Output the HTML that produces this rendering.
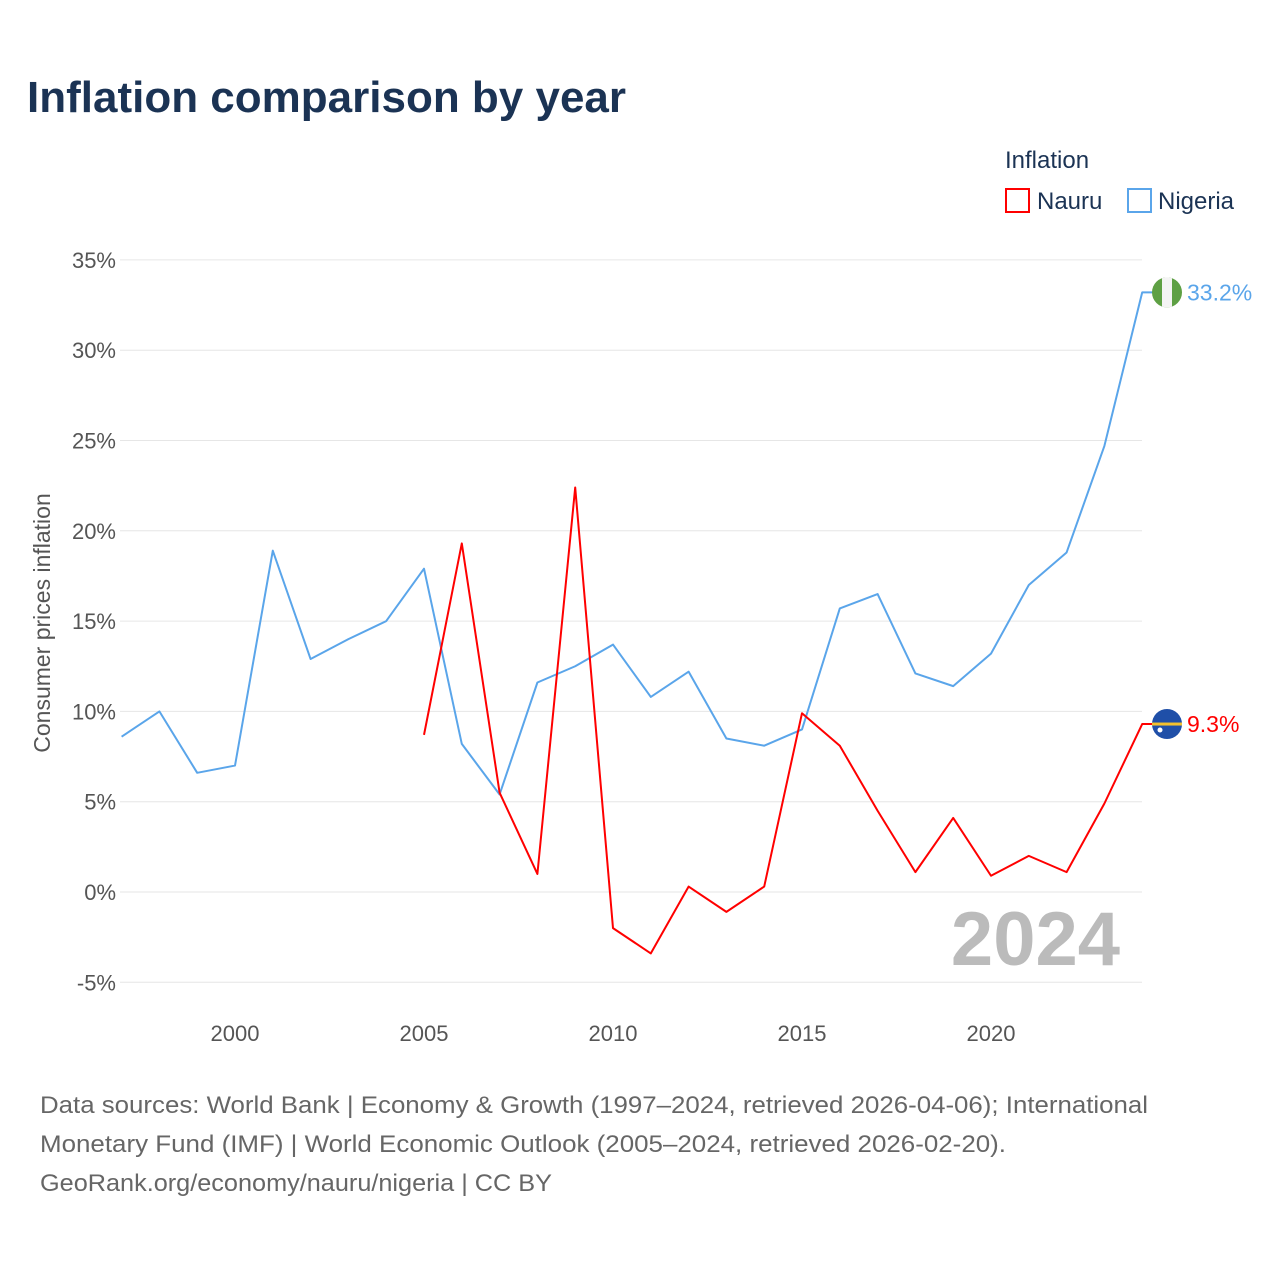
<!DOCTYPE html>
<html><head><meta charset="utf-8">
<style>
body{margin:0;background:#fff;font-family:"Liberation Sans",sans-serif;}
svg{display:block}
</style></head>
<body>
<svg id="chart" width="1280" height="1280" viewBox="0 0 1280 1280" xmlns="http://www.w3.org/2000/svg">
<rect width="1280" height="1280" fill="#fff"/>
<text x="27" y="112" font-size="44" font-weight="bold" fill="#1b3354">Inflation comparison by year</text>
<g>
<text x="1005" y="168" font-size="24" fill="#1b3354">Inflation</text>
<g><rect x="1006" y="189" width="23" height="23" fill="none" stroke="#ff0000" stroke-width="2"/><text x="1037" y="209" font-size="24" fill="#1b3354">Nauru</text></g>
<g><rect x="1128" y="189" width="23" height="23" fill="none" stroke="#5aa5ea" stroke-width="2"/><text x="1158" y="209" font-size="24" fill="#1b3354">Nigeria</text></g>
</g>
<text transform="translate(50,623) rotate(-90)" text-anchor="middle" font-size="23" fill="#555">Consumer prices inflation</text>
<g id="grid"></g><g id="yt"></g><g id="xt"></g>
<text x="1120" y="965" text-anchor="end" font-size="76" font-weight="bold" fill="#bbbbbb">2024</text>
<g id="series"></g>
<g font-size="24" fill="#666">
<text x="40" y="1113" textLength="1108" lengthAdjust="spacingAndGlyphs">Data sources: World Bank | Economy &amp; Growth (1997–2024, retrieved 2026-04-06); International</text>
<text x="40" y="1152" textLength="966" lengthAdjust="spacingAndGlyphs">Monetary Fund (IMF) | World Economic Outlook (2005–2024, retrieved 2026-02-20).</text>
<text x="40" y="1191" textLength="512" lengthAdjust="spacingAndGlyphs">GeoRank.org/economy/nauru/nigeria | CC BY</text>
</g>
</svg>
<script>
const nigeriaYears=[1997,1998,1999,2000,2001,2002,2003,2004,2005,2006,2007,2008,2009,2010,2011,2012,2013,2014,2015,2016,2017,2018,2019,2020,2021,2022,2023,2024];
const nigeriaValues=[8.6,10.0,6.6,7.0,18.9,12.9,14.0,15.0,17.9,8.2,5.4,11.6,12.5,13.7,10.8,12.2,8.5,8.1,9.0,15.7,16.5,12.1,11.4,13.2,17.0,18.8,24.7,33.2];
const nauruYears=[2005,2006,2007,2008,2009,2010,2011,2012,2013,2014,2015,2016,2017,2018,2019,2020,2021,2022,2023,2024];
const nauruValues=[8.7,19.3,5.5,1.0,22.4,-2.0,-3.4,0.3,-1.1,0.3,9.9,8.1,4.5,1.1,4.1,0.9,2.0,1.1,4.9,9.3];
const yTicks=[-5,0,5,10,15,20,25,30,35];
const xTicks=[2000,2005,2010,2015,2020];
const NS="http://www.w3.org/2000/svg";
const X=y=>235+(y-2000)*37.8;
const Y=v=>892-v*18.06;
function mk(t,a,p){const e=document.createElementNS(NS,t);for(const k in a)e.setAttribute(k,a[k]);p.appendChild(e);return e;}
const grid=document.getElementById('grid'),yt=document.getElementById('yt'),xt=document.getElementById('xt'),ser=document.getElementById('series');
yTicks.forEach(v=>{
 const l=mk('line',{x1:120,x2:1142,y1:Y(v),y2:Y(v),stroke:'#e6e6e6','stroke-width':1},grid);
 
 
 const t=mk('text',{x:116,y:Y(v)+8,'text-anchor':'end','font-size':22,fill:'#555'},yt);
 t.textContent=v+'%';
 
 
});
xTicks.forEach(y=>{
 const t=mk('text',{x:X(y),y:1041,'text-anchor':'middle','font-size':22,fill:'#555'},xt);
 t.textContent=y;
 
 
});
function line(years,vals,color,name){
 const pts=years.map((y,i)=>X(y)+','+Y(vals[i]));
 const last=vals[vals.length-1];
 pts.push((X(years[years.length-1])+13)+','+Y(last));
 const p=mk('polyline',{points:pts.join(' '),fill:'none',stroke:color,'stroke-width':2,'stroke-linejoin':'round'},ser);
 
 
 return last;
}
const ng=line(nigeriaYears,nigeriaValues,'#5aa5ea','nigeria');
const na=line(nauruYears,nauruValues,'#ff0000','nauru');
const cx=1167;
const fg=mk('g',{},ser);


mk('clipPath',{id:'c1'},fg);
mk('circle',{cx:cx,cy:Y(ng),r:15},fg.lastChild);
const gg=mk('g',{'clip-path':'url(#c1)'},fg);
mk('rect',{x:cx-15,y:Y(ng)-15,width:30,height:30,fill:'#5ea044'},gg);
mk('rect',{x:cx-5,y:Y(ng)-15,width:10,height:30,fill:'#f4f4f4'},gg);
const fn=mk('g',{},ser);


mk('circle',{cx:cx,cy:Y(na),r:15,fill:'#1f4fa8'},fn);
mk('rect',{x:cx-15,y:Y(na)-1.5,width:30,height:3,fill:'#f2c12e'},fn);
mk('circle',{cx:cx-7,cy:Y(na)+6,r:2.5,fill:'#fff'},fn);
const l1=mk('text',{x:1187,y:Y(ng)+8,'font-size':23,fill:'#5aa5ea'},ser);
l1.textContent=ng.toFixed(1)+'%';


const l2=mk('text',{x:1187,y:Y(na)+8,'font-size':23,fill:'#ff0000'},ser);
l2.textContent=na.toFixed(1)+'%';


</script>
</body></html>
